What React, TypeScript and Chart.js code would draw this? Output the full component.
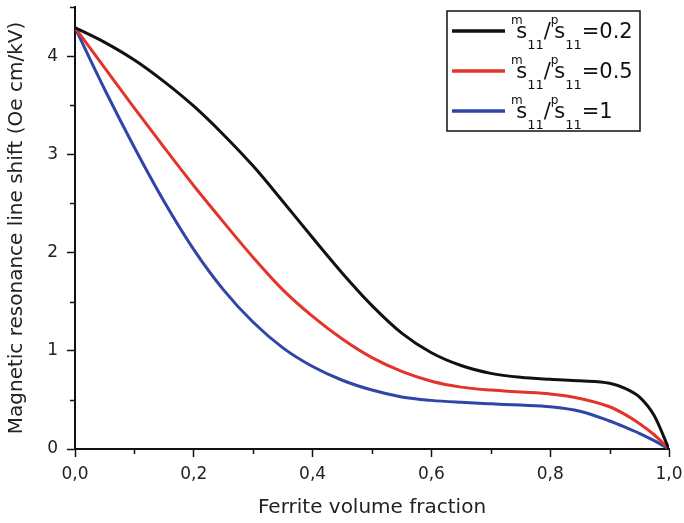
import React, { useEffect, useRef } from "react";
import { Chart, registerables } from "chart.js";

Chart.register(...registerables);

// Ferrite volume fraction (x)
const fractions = [0, 0.05, 0.1, 0.15, 0.2, 0.25, 0.3, 0.35, 0.4, 0.45, 0.5, 0.55, 0.6, 0.65, 0.7, 0.75, 0.8, 0.85, 0.9, 0.925, 0.95, 0.975, 1.0];

// Magnetic resonance line shift (Oe cm/kV)
const shiftRatio02 = [4.29, 4.14, 3.96, 3.74, 3.49, 3.2, 2.88, 2.52, 2.15, 1.79, 1.46, 1.18, 0.98, 0.85, 0.77, 0.73, 0.71, 0.695, 0.67, 0.62, 0.53, 0.34, 0];
const shiftRatio05 = [4.29, 3.88, 3.47, 3.07, 2.68, 2.31, 1.95, 1.62, 1.35, 1.12, 0.93, 0.79, 0.69, 0.63, 0.6, 0.58, 0.56, 0.515, 0.43, 0.355, 0.26, 0.145, 0];
const shiftRatio1 = [4.29, 3.66, 3.07, 2.52, 2.03, 1.62, 1.29, 1.03, 0.84, 0.7, 0.6, 0.53, 0.495, 0.475, 0.46, 0.447, 0.43, 0.385, 0.285, 0.225, 0.16, 0.085, 0];

const ratioValues = ["0.2", "0.5", "1"];
const seriesLabels = ratioValues.map((r) => `ms11/ps11=${r}`);
const seriesColors = ["#111111", "#e3342b", "#2f45a8"];

const xTickValues = [0, 0.2, 0.4, 0.6, 0.8, 1.0];
const xMinorTicks = [0.1, 0.3, 0.5, 0.7, 0.9];
const yTickValues = [0, 1, 2, 3, 4];
const yMinorTicks = [0.5, 1.5, 2.5, 3.5, 4.5];

const FONT = "'DejaVu Sans', sans-serif";

const minorTickPlugin = {
  id: "minorTicks",
  afterDraw(chart: any) {
    const { ctx, chartArea, scales } = chart;
    ctx.save();
    ctx.strokeStyle = "#111";
    ctx.lineWidth = 1.5;
    ctx.beginPath();
    xMinorTicks.forEach((v) => {
      const px = Math.round(scales.x.getPixelForValue(v)) + 0.5;
      ctx.moveTo(px, chartArea.bottom);
      ctx.lineTo(px, chartArea.bottom + 5);
    });
    yMinorTicks.forEach((v) => {
      const py = Math.round(scales.y.getPixelForValue(v)) + 0.5;
      ctx.moveTo(chartArea.left, py);
      ctx.lineTo(chartArea.left - 5, py);
    });
    ctx.stroke();
    ctx.restore();
  },
};

const legendPlugin = {
  id: "richLegend",
  afterDraw(chart: any) {
    const { ctx, chartArea } = chart;
    const boxW = 193;
    const boxH = 120;
    const right = chartArea.right - 29;
    const top = chartArea.top + 4;
    const left = right - boxW;
    ctx.save();
    ctx.lineWidth = 1.5;
    ctx.strokeStyle = "#111";
    ctx.strokeRect(left, top, boxW, boxH);
    chart.data.datasets.forEach((ds: any, i: number) => {
      const y = top + 20 + i * 40;
      ctx.strokeStyle = ds.borderColor;
      ctx.lineWidth = 3.5;
      ctx.beginPath();
      ctx.moveTo(left + 5, y);
      ctx.lineTo(left + 58, y);
      ctx.stroke();
      const parts: [string, string][] = [
        ["sup", "m"],
        ["main", "s"],
        ["sub", "11"],
        ["main", "/"],
        ["sup", "p"],
        ["main", "s"],
        ["sub", "11"],
        ["main", "=" + ratioValues[i]],
      ];
      let x = left + 64;
      ctx.fillStyle = "#111";
      ctx.textBaseline = "alphabetic";
      ctx.textAlign = "left";
      parts.forEach(([kind, t]) => {
        let size = 21;
        let by = y + 7;
        if (kind === "sup") {
          size = 12;
          by = y - 7;
        } else if (kind === "sub") {
          size = 13;
          by = y + 18;
        }
        ctx.font = `${size}px ${FONT}`;
        ctx.fillText(t, x, by);
        const w = ctx.measureText(t).width;
        x += kind === "sup" ? w * 0.45 : w;
      });
    });
    ctx.restore();
  },
};

export default function App() {
  const canvasRef = useRef<HTMLCanvasElement | null>(null);

  useEffect(() => {
    document.body.style.margin = "0";
    const canvas = canvasRef.current;
    if (!canvas) return;
    const makeData = (ys: number[]) => fractions.map((x, i) => ({ x, y: ys[i] }));
    const chart = new Chart(canvas, {
      type: "line",
      data: {
        datasets: [shiftRatio02, shiftRatio05, shiftRatio1].map((ys, i) => ({
          label: seriesLabels[i],
          data: makeData(ys),
          borderColor: seriesColors[i],
          backgroundColor: seriesColors[i],
          borderWidth: 3,
          pointRadius: 0,
          cubicInterpolationMode: "monotone" as const,
          fill: false,
        })),
      },
      options: {
        animation: false,
        responsive: false,
        devicePixelRatio: 1,
        layout: { padding: { top: 7, right: 15, left: 0, bottom: 0 } },
        plugins: {
          legend: { display: false },
          tooltip: { enabled: false },
        },
        scales: {
          x: {
            type: "linear",
            min: 0,
            max: 1,
            afterBuildTicks: (s: any) => {
              s.ticks = xTickValues.map((v) => ({ value: v }));
            },
            afterFit: (s: any) => {
              s.height = 74;
              s.paddingLeft = 0;
              s.paddingRight = 0;
            },
            ticks: {
              callback: (v: any) => Number(v).toFixed(1).replace(".", ","),
              font: { family: FONT, size: 17 },
              color: "#222",
              padding: 7,
              maxRotation: 0,
              autoSkip: false,
            },
            grid: {
              drawOnChartArea: false,
              tickLength: 8,
              tickWidth: 1.5,
              tickColor: "#111",
            },
            border: { display: true, color: "#111", width: 2 },
            title: {
              display: true,
              text: "Ferrite volume fraction",
              font: { family: FONT, size: 20 },
              color: "#222",
              padding: { top: 0, bottom: 3 },
            },
          },
          y: {
            type: "linear",
            min: 0,
            max: 4.5,
            afterBuildTicks: (s: any) => {
              s.ticks = yTickValues.map((v) => ({ value: v }));
            },
            afterFit: (s: any) => {
              s.width = 75;
              s.paddingTop = 0;
              s.paddingBottom = 0;
            },
            ticks: {
              callback: (v: any) => String(v),
              font: { family: FONT, size: 17 },
              color: "#222",
              padding: 9,
            },
            grid: {
              drawOnChartArea: false,
              tickLength: 8,
              tickWidth: 1.5,
              tickColor: "#111",
            },
            border: { display: true, color: "#111", width: 2 },
            title: {
              display: true,
              text: "Magnetic resonance line shift (Oe cm/kV)",
              font: { family: FONT, size: 20 },
              color: "#222",
              padding: { top: 5, bottom: 0 },
            },
          },
        },
      },
      plugins: [minorTickPlugin, legendPlugin],
    });
    return () => chart.destroy();
  }, []);

  return (
    <div style={{ width: 684, height: 523 }}>
      <canvas ref={canvasRef} width={684} height={523} style={{ display: "block" }} />
    </div>
  );
}
